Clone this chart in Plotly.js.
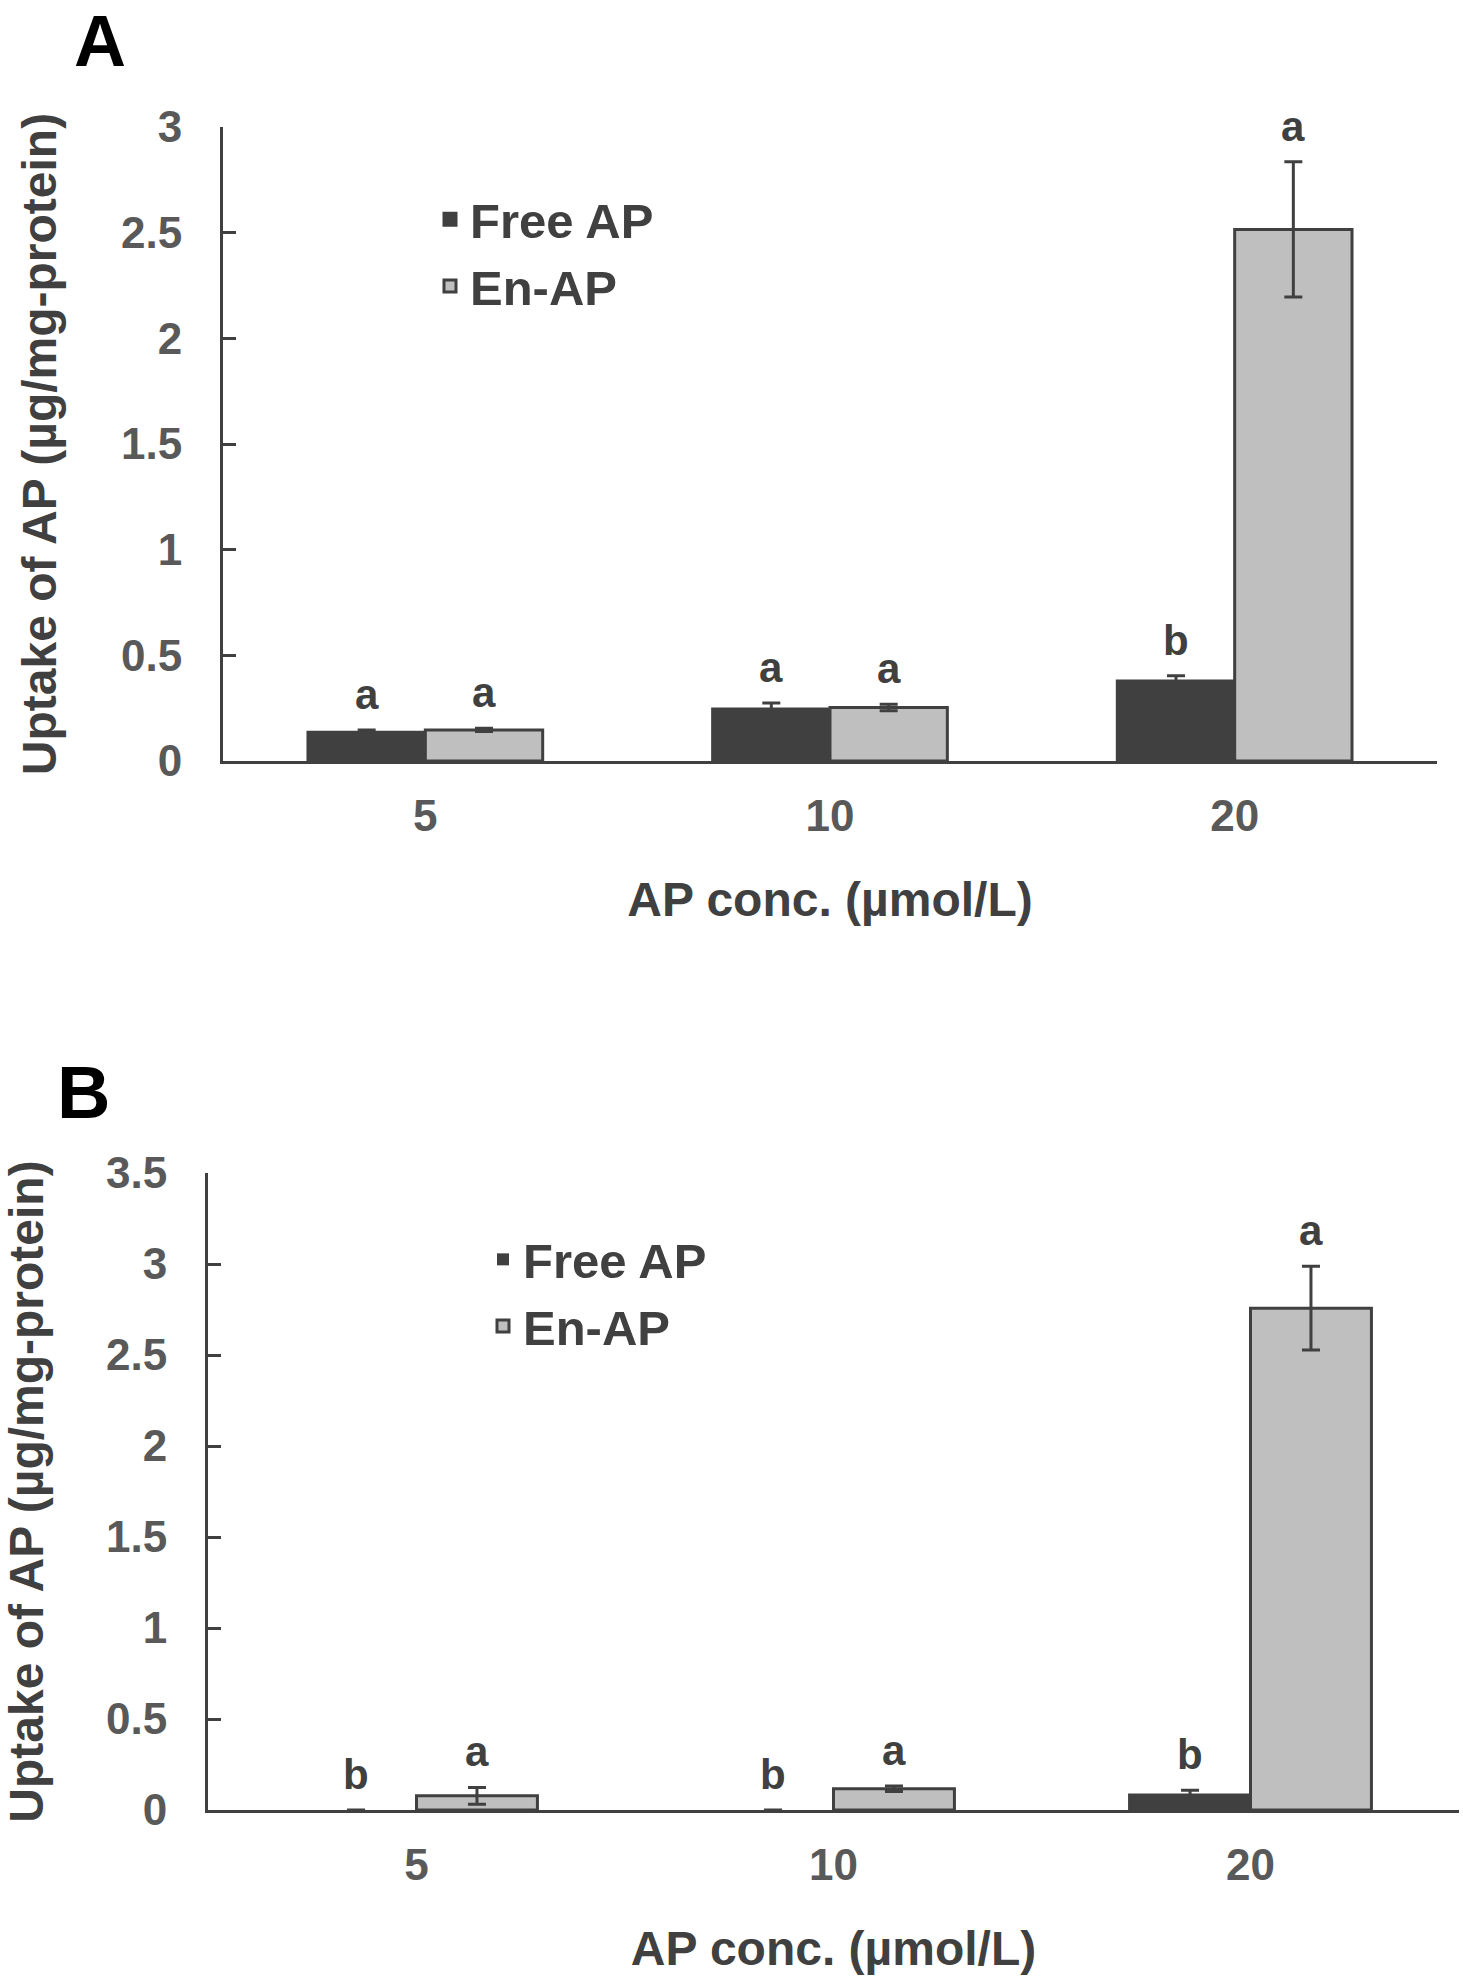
<!DOCTYPE html>
<html>
<head>
<meta charset="utf-8">
<script src="https://cdn.plot.ly/plotly-3.0.1.min.js"></script>
<style>html,body{margin:0;padding:0;background:#fff;}#chart{width:1463px;height:1978px;}</style>
</head>
<body>
<div id="chart"></div>
<script>
// ---- data ----
const categories = ['5', '10', '20'];
const seriesNames = ['Free AP', 'En-AP'];

// Panel A
const freeA = [0.136, 0.246, 0.379];
const freeAErr = [0.011, 0.029, 0.024];
const enA = [0.147, 0.253, 2.515];
const enAErr = [0.008, 0.015, 0.32];
const freeALetters = ['a', 'a', 'b'];
const enALetters = ['a', 'a', 'a'];

// Panel B
const freeB = [0, 0, 0.082];
const freeBErr = [0, 0, 0.026];
const enB = [0.078, 0.117, 2.757];
const enBErr = [0.046, 0.015, 0.23];
const freeBLetters = ['b', 'b', 'b'];
const enBLetters = ['a', 'a', 'a'];

const xTitle = 'AP conc. (µmol/L)';
const yTitle = 'Uptake of AP (µg/mg-protein)';

// ---- styling ----
const FONT = 'Liberation Sans, Arial, Helvetica, sans-serif';
const DARK = '#404040';
const LIGHT = '#bfbfbf';
const TICKC = '#595959';
const W = 1463, H = 1978;
const BARGAP = 0.42;

function bar(name, x, y, err, color, xa, ya, legend, group) {
  return {
    type: 'bar', name: name, x: x, y: y,
    xaxis: xa, yaxis: ya, legend: legend, legendgroup: group, showlegend: true,
    marker: {color: color, line: {color: DARK, width: y.map(v => v === 0 ? 0 : 3)}},
    error_y: {type: 'data', array: err, visible: true, color: DARK, thickness: 3, width: 9},
    hoverinfo: 'x+y'
  };
}

const traces = [
  bar(seriesNames[0], categories, freeA, freeAErr, DARK, 'x', 'y', 'legend', 'a1'),
  bar(seriesNames[1], categories, enA, enAErr, LIGHT, 'x', 'y', 'legend', 'a2'),
  bar(seriesNames[0], categories, freeB, freeBErr, DARK, 'x2', 'y2', 'legend2', 'b1'),
  bar(seriesNames[1], categories, enB, enBErr, LIGHT, 'x2', 'y2', 'legend2', 'b2')
];

const tickFont = {family: FONT, size: 44, color: TICKC, weight: 'bold'};
const titleFont = {family: FONT, size: 48, color: DARK, weight: 'bold'};

function xAxis(domain, anchor) {
  return {
    domain: domain, anchor: anchor, type: 'category',
    showline: true, linecolor: DARK, linewidth: 3,
    ticks: '', showgrid: false, zeroline: false,
    tickfont: tickFont, ticklabelstandoff: 14,
    title: {text: xTitle, font: titleFont, standoff: 44},
    automargin: false, fixedrange: true
  };
}
function yAxis(domain, anchor, range, standoff) {
  return {
    domain: domain, anchor: anchor, range: range,
    tick0: 0, dtick: 0.5,
    showline: true, linecolor: DARK, linewidth: 3,
    ticks: 'inside', ticklen: 13, tickwidth: 3, tickcolor: DARK,
    showgrid: false, zeroline: false,
    tickfont: tickFont, ticklabelstandoff: 29,
    title: {text: yTitle, font: titleFont, standoff: standoff},
    automargin: false, fixedrange: true
  };
}

const annotations = [];
const off = (1 - BARGAP) / 4;
function addLetters(letters, vals, errs, side, xref, yref) {
  letters.forEach((t, i) => {
    annotations.push({
      text: t, xref: xref, yref: yref,
      x: i + side * off, y: vals[i] + errs[i],
      xanchor: 'center', yanchor: 'bottom', yshift: 10,
      showarrow: false,
      font: {family: FONT, size: 42, color: DARK, weight: 'bold'}
    });
  });
}
addLetters(freeALetters, freeA, freeAErr, -1, 'x', 'y');
addLetters(enALetters, enA, enAErr, 1, 'x', 'y');
addLetters(freeBLetters, freeB, freeBErr, -1, 'x2', 'y2');
addLetters(enBLetters, enB, enBErr, 1, 'x2', 'y2');

annotations.push({text: 'A', xref: 'paper', yref: 'paper', x: 100 / W, y: 1,
  xanchor: 'center', yanchor: 'top', borderpad: 0, showarrow: false,
  font: {family: FONT, size: 72, color: '#000', weight: 'bold'}});
annotations.push({text: 'B', xref: 'paper', yref: 'paper', x: 83 / W, y: 1 - 1092 / H,
  xanchor: 'center', yanchor: 'middle', showarrow: false,
  font: {family: FONT, size: 74, color: '#000', weight: 'bold'}});

const legendFont = {family: FONT, size: 49, color: DARK, weight: 'bold'};

const layout = {
  width: W, height: H,
  margin: {l: 0, r: 0, t: 0, b: 0},
  paper_bgcolor: '#ffffff', plot_bgcolor: 'rgba(0,0,0,0)',
  font: {family: FONT, color: DARK},
  barmode: 'group', bargap: BARGAP, bargroupgap: 0,
  xaxis: xAxis([223 / W, 1437 / W], 'y'),
  yaxis: yAxis([1 - 761 / H, 1 - 127 / H], 'x', [0, 3], 50),
  xaxis2: xAxis([208 / W, 1459 / W], 'y2'),
  yaxis2: yAxis([1 - 1810 / H, 1 - 1173 / H], 'x2', [0, 3.5], 56),
  legend: {x: 430 / W, y: 1 - 181 / H, xanchor: 'left', yanchor: 'top', xref: 'paper', yref: 'paper',
    bgcolor: 'rgba(0,0,0,0)', font: legendFont, tracegroupgap: 6, traceorder: 'normal'},
  legend2: {x: 483 / W, y: 1 - 1221 / H, xanchor: 'left', yanchor: 'top', xref: 'paper', yref: 'paper',
    bgcolor: 'rgba(0,0,0,0)', font: legendFont, tracegroupgap: 17, traceorder: 'normal'},
  annotations: annotations,
  showlegend: true
};

Plotly.newPlot('chart', traces, layout, {displayModeBar: false, responsive: false});
</script>
</body>
</html>
